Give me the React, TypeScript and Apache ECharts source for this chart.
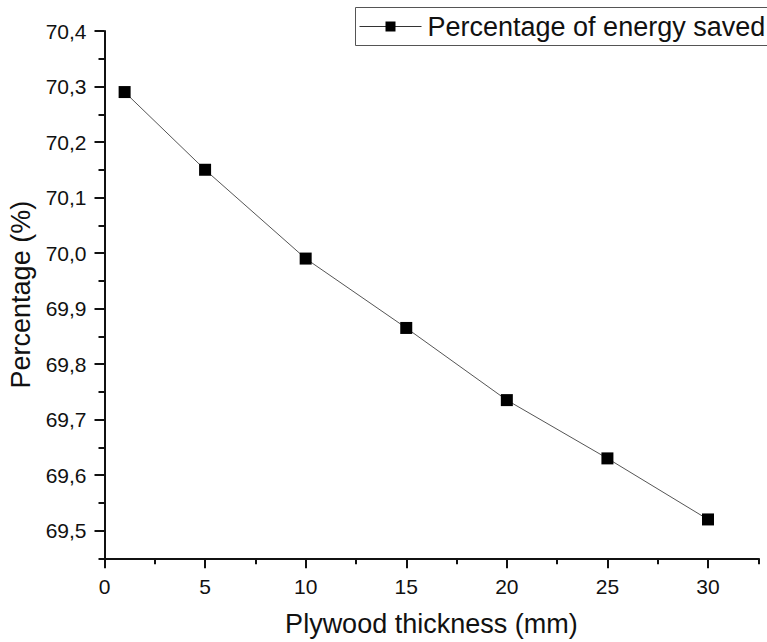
import React, { useEffect, useRef } from "react";
import * as echarts from "echarts";

const thickness = [1, 5, 10, 15, 20, 25, 30];
const percentSaved = [70.29, 70.15, 69.99, 69.865, 69.735, 69.63, 69.52];
const xMajorTicks = [0, 5, 10, 15, 20, 25, 30];
const xMinorTicks = [2.5, 7.5, 12.5, 17.5, 22.5, 27.5, 32.5];
const yMajorTicks = [69.5, 69.6, 69.7, 69.8, 69.9, 70.0, 70.1, 70.2, 70.3, 70.4];
const yMinorTicks = [69.45, 69.55, 69.65, 69.75, 69.85, 69.95, 70.05, 70.15, 70.25, 70.35];
const seriesName = "Percentage of energy saved";
const xTitle = "Plywood thickness (mm)";
const yTitle = "Percentage (%)";

const FONT = "'Liberation Sans', Arial, sans-serif";

export default function App() {
  const ref = useRef<HTMLDivElement>(null);
  useEffect(() => {
    if (!ref.current) return;
    const chart = echarts.init(ref.current, null, { renderer: "svg" });
    const axisLine = { show: true, lineStyle: { color: "#111", width: 2 } };
    chart.setOption({
      animation: false,
      backgroundColor: "#fff",
      textStyle: { fontFamily: FONT },
      grid: { left: 104.5, right: 8.7, top: 31, bottom: 83.7, containLabel: false, outerBoundsMode: "none" },
      graphic: [
        {
          type: "group",
          left: 355,
          top: 7,
          children: [
            {
              type: "rect",
              shape: { x: 0, y: 0, width: 430, height: 38 },
              style: { fill: "#fff", stroke: "#555", lineWidth: 1 },
            },
            {
              type: "line",
              shape: { x1: 4, y1: 19, x2: 66, y2: 19 },
              style: { stroke: "#333", lineWidth: 1 },
            },
            {
              type: "rect",
              shape: { x: 30, y: 14, width: 10, height: 10 },
              style: { fill: "#000" },
            },
            {
              type: "text",
              x: 72,
              y: 19,
              style: {
                text: seriesName,
                fontSize: 27,
                fontFamily: FONT,
                fill: "#111",
                verticalAlign: "middle",
                align: "left",
              },
            },
          ],
        },
      ],
      xAxis: [
        {
          type: "value",
          min: 0,
          max: 32.5,
          axisLine,
          splitLine: { show: false },
          axisTick: { show: true, customValues: xMajorTicks, length: 10, lineStyle: { color: "#111", width: 2 } },
          axisLabel: {
            customValues: xMajorTicks,
            fontSize: 21,
            color: "#111",
            margin: 18,
            fontFamily: FONT,
            formatter: (v: number) => String(v),
          },
          name: xTitle,
          nameLocation: "middle",
          nameGap: 52,
          nameTextStyle: { fontSize: 27, color: "#111", fontFamily: FONT },
        },
        {
          type: "value",
          min: 0,
          max: 32.5,
          position: "bottom",
          axisLine: { show: false },
          splitLine: { show: false },
          axisTick: { show: true, customValues: xMinorTicks, length: 6, lineStyle: { color: "#111", width: 2 } },
          axisLabel: { show: false },
        },
      ],
      yAxis: [
        {
          type: "value",
          min: 69.45,
          max: 70.4,
          axisLine,
          splitLine: { show: false },
          axisTick: { show: true, customValues: yMajorTicks, length: 10, lineStyle: { color: "#111", width: 2 } },
          axisLabel: {
            customValues: yMajorTicks,
            fontSize: 21,
            color: "#111",
            margin: 18,
            fontFamily: FONT,
            formatter: (v: number) => v.toFixed(1).replace(".", ","),
          },
          name: yTitle,
          nameLocation: "middle",
          nameGap: 68,
          nameTextStyle: { fontSize: 27, color: "#111", fontFamily: FONT },
        },
        {
          type: "value",
          min: 69.45,
          max: 70.4,
          position: "left",
          axisLine: { show: false },
          splitLine: { show: false },
          axisTick: { show: true, customValues: yMinorTicks, length: 6, lineStyle: { color: "#111", width: 2 } },
          axisLabel: { show: false },
        },
      ],
      series: [
        {
          name: seriesName,
          type: "line",
          xAxisIndex: 0,
          yAxisIndex: 0,
          data: thickness.map((x, i) => [x, percentSaved[i]]),
          symbol: "rect",
          symbolSize: 12,
          itemStyle: { color: "#000" },
          lineStyle: { color: "#555", width: 1 },
        },
      ],
    });
    return () => chart.dispose();
  }, []);
  return (
    <div
      ref={ref}
      style={{ position: "fixed", left: 0, top: 0, width: 767, height: 642, background: "#fff" }}
    />
  );
}
